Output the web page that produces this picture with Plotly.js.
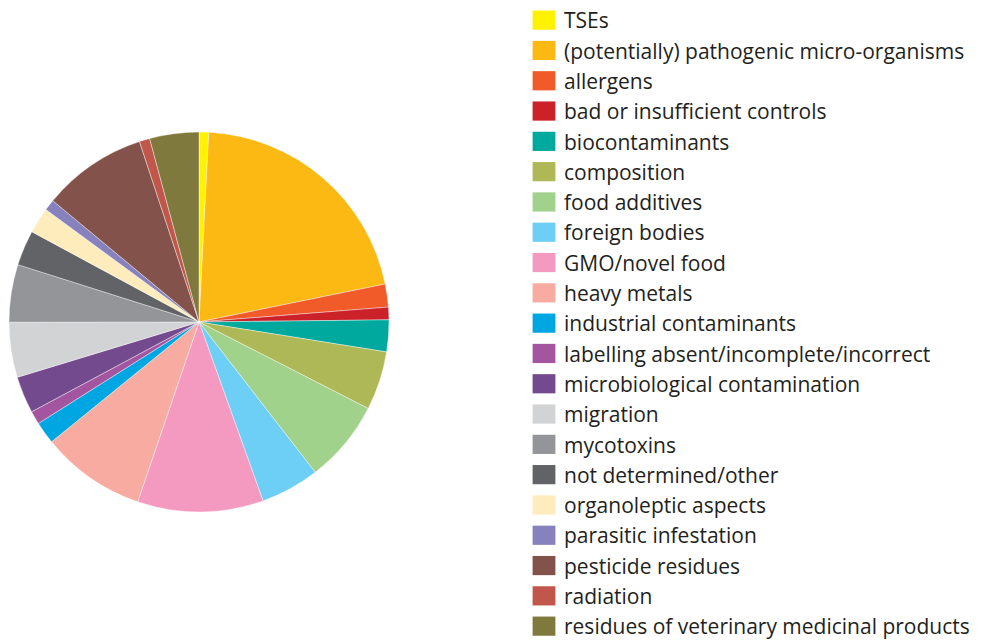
<!DOCTYPE html>
<html>
<head>
<meta charset="utf-8">
<script src="https://cdn.plot.ly/plotly-3.0.1.min.js"></script>
<style>html,body{margin:0;padding:0;background:#fff;}#chart{width:981px;height:640px;}</style>
</head>
<body>
<div id="chart"></div>
<script>
const categories = [
  "TSEs",
  "(potentially) pathogenic micro-organisms",
  "allergens",
  "bad or insufficient controls",
  "biocontaminants",
  "composition",
  "food additives",
  "foreign bodies",
  "GMO/novel food",
  "heavy metals",
  "industrial contaminants",
  "labelling absent/incomplete/incorrect",
  "microbiological contamination",
  "migration",
  "mycotoxins",
  "not determined/other",
  "organoleptic aspects",
  "parasitic infestation",
  "pesticide residues",
  "radiation",
  "residues of veterinary medicinal products"
];
const shares = [0.82, 20.97, 1.95, 1.07, 2.7, 5.0, 7.0, 5.0, 10.7, 8.9, 1.9, 1.13, 3.13, 4.68, 4.9, 3.0, 2.2, 0.94, 8.9, 0.89, 4.18];
const colors = [
  "#fff200", "#fdb913", "#f15a29", "#cb2129", "#00a99d", "#afb856", "#a1d28b",
  "#6dcff6", "#f49ac1", "#f8aba0", "#00a6e2", "#a3569f", "#744a8f", "#d1d3d4",
  "#939598", "#616366", "#ffecbc", "#8781bd", "#83524a", "#c1574a", "#80793d"
];

const W = 981, H = 640;
const cx = 199, cy = 322, r = 190;

const trace = {
  type: "pie",
  labels: categories,
  values: shares,
  sort: false,
  direction: "clockwise",
  rotation: 0,
  textinfo: "none",
  hoverinfo: "label+percent",
  marker: {colors: colors, line: {color: "#ffffff", width: 0.4}},
  domain: {
    x: [(cx - r) / W, (cx + r) / W],
    y: [(H - cy - r) / H, (H - cy + r) / H]
  }
};

const layout = {
  width: W, height: H,
  margin: {l: 0, r: 0, t: 0, b: 0},
  paper_bgcolor: "#ffffff",
  showlegend: true,
  legend: {
    x: 524 / W, y: 1 - 4 / H,
    xanchor: "left", yanchor: "top",
    font: {family: "'Open Sans', sans-serif", size: 21, color: "#231f20"},
    bgcolor: "rgba(0,0,0,0)",
    borderwidth: 0
  }
};

Plotly.newPlot("chart", [trace], layout, {staticPlot: true}).then(function (gd) {
  gd.querySelectorAll(".legendpoints path").forEach(function (p) {
    p.setAttribute("transform", "translate(20,0) scale(1.9,1.6)");
    p.style.strokeWidth = "0";
  });
});
</script>
</body>
</html>
